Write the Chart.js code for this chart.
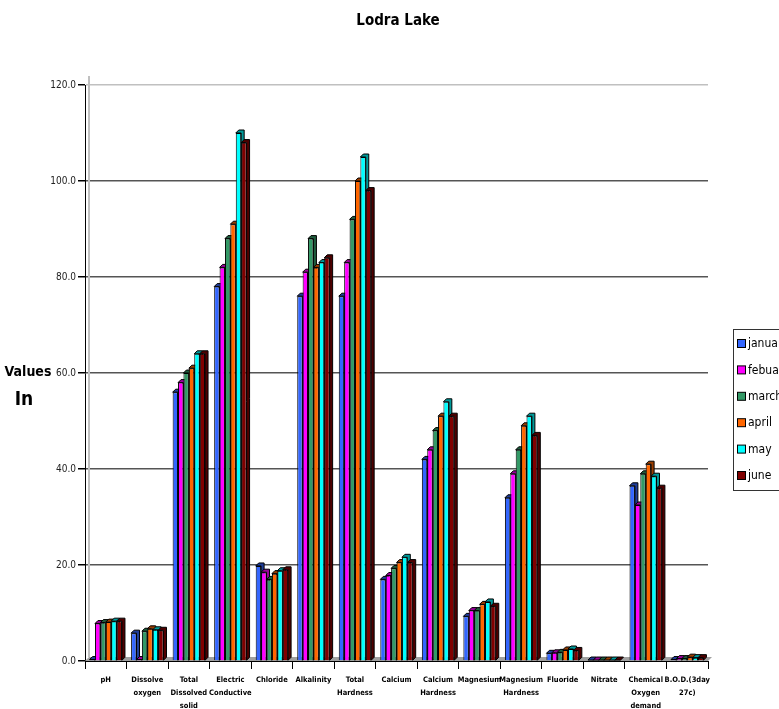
<!DOCTYPE html>
<html>
<head>
<meta charset="utf-8">
<title>Lodra Lake</title>
<script src="https://cdn.jsdelivr.net/npm/chart.js"></script>
<style>
  html, body { margin: 0; padding: 0; background: #ffffff; overflow: hidden; }
  canvas { display: block; }
</style>
</head>
<body>
<canvas id="lake-chart" width="779" height="709"></canvas>
<script>
// parameters on the x axis
const categories = [
    'pH',
    ['Dissolve', 'oxygen'],
    ['Total', 'Dissolved', 'solid'],
    ['Electric', 'Conductive'],
    'Chloride',
    'Alkalinity',
    ['Total', 'Hardness'],
    'Calcium',
    ['Calcium', 'Hardness'],
    'Magnesium',
    ['Magnesium', 'Hardness'],
    'Fluoride',
    'Nitrate',
    ['Chemical', 'Oxygen', 'demand'],
    ['B.O.D.(3day', '27c)']
];

// monthly readings
const january = [0.3, 5.8, 56, 78, 19.8, 76, 76, 17.0, 42, 9.3, 34, 1.6, 0.2, 36.5, 0.3];
const febuary = [7.8, 0.3, 58, 82, 18.5, 81, 83, 17.8, 44, 10.5, 39, 1.7, 0.2, 32.5, 0.5];
const march = [8.0, 6.2, 60, 88, 17.0, 88, 92, 19.3, 48, 10.5, 44, 1.8, 0.2, 39.0, 0.5];
const april = [8.1, 6.7, 61, 91, 18.2, 82, 100, 20.5, 51, 11.8, 49, 2.3, 0.2, 41.0, 0.8];
const may = [8.3, 6.5, 64, 110, 18.8, 83, 105, 21.6, 54, 12.3, 51, 2.5, 0.2, 38.5, 0.7];
const june = [8.3, 6.4, 64, 108, 19.0, 84, 98, 20.5, 51, 11.4, 47, 2.2, 0.2, 36.0, 0.7];

const monthNames = ['january', 'febuary', 'march', 'april', 'may', 'june'];
const monthValues = [january, febuary, march, april, may, june];

// y axis ticks
const yTicks = [0, 20, 40, 60, 80, 100, 120];

const frontColors = ['#3366ff', '#ff00ff', '#339966', '#ff6600', '#00ffff', '#800000'];
const sideColors = ['#1f3d99', '#990099', '#1f5c3d', '#993d00', '#009999', '#4d0000'];

const narrowFont = '"DejaVu Sans Condensed", "Liberation Sans Narrow", "Arial Narrow", "Liberation Sans", sans-serif';

// draws the fake 3D parts, the title, the y label and the clipped legend
const lodraDecor = {
    id: 'lodraDecor',
    beforeDatasetsDraw(chart) {
        const ctx = chart.ctx;
        const area = chart.chartArea;
        ctx.save();
        // back wall edge and floor
        ctx.strokeStyle = '#c0c0c0';
        ctx.lineWidth = 2;
        ctx.beginPath();
        ctx.moveTo(area.left + 4, area.top - 9);
        ctx.lineTo(area.left + 4, area.bottom - 4);
        ctx.stroke();
        ctx.fillStyle = '#a0a0a0';
        ctx.beginPath();
        ctx.moveTo(area.left, area.bottom);
        ctx.lineTo(area.left + 4, area.bottom - 4);
        ctx.lineTo(area.right + 4, area.bottom - 4);
        ctx.lineTo(area.right, area.bottom);
        ctx.closePath();
        ctx.fill();

        // side and top faces of every bar
        const d = 3;
        chart.data.datasets.forEach((ds, i) => {
            const meta = chart.getDatasetMeta(i);
            meta.data.forEach(bar => {
                const p = bar.getProps(['x', 'y', 'base', 'width'], true);
                const l = p.x - p.width / 2;
                const r = p.x + p.width / 2;
                ctx.fillStyle = sideColors[i];
                ctx.strokeStyle = '#000000';
                ctx.lineWidth = 1;
                ctx.beginPath();
                ctx.moveTo(l, p.y);
                ctx.lineTo(l + d, p.y - d);
                ctx.lineTo(r + d, p.y - d);
                ctx.lineTo(r + d, p.base - d);
                ctx.lineTo(r, p.base);
                ctx.lineTo(r, p.y);
                ctx.closePath();
                ctx.fill();
                ctx.stroke();
            });
        });
        ctx.restore();
    },
    afterDraw(chart) {
        const ctx = chart.ctx;
        ctx.save();
        ctx.fillStyle = '#000000';
        ctx.textAlign = 'center';
        ctx.textBaseline = 'middle';
        ctx.font = 'bold 15px ' + narrowFont;
        ctx.fillText('Lodra Lake', 398, 21);

        ctx.font = 'bold 14px ' + narrowFont;
        ctx.fillText('Values', 28, 372);
        ctx.font = 'bold 19px ' + narrowFont;
        ctx.fillText('In', 24, 400);

        // legend box, runs off the right edge like the original
        ctx.strokeStyle = '#333333';
        ctx.lineWidth = 1;
        ctx.fillStyle = '#ffffff';
        ctx.fillRect(733.5, 329.5, 60, 161);
        ctx.strokeRect(733.5, 329.5, 60, 161);
        ctx.textAlign = 'left';
        ctx.font = '12px ' + narrowFont;
        monthNames.forEach((name, i) => {
            const y = 344 + i * 26.4;
            ctx.fillStyle = frontColors[i];
            ctx.fillRect(737.5, y - 4.5, 8, 8);
            ctx.strokeStyle = '#000000';
            ctx.strokeRect(737.5, y - 4.5, 8, 8);
            ctx.fillStyle = '#000000';
            ctx.fillText(name, 748, y);
        });
        ctx.restore();
    }
};

const lakeCtx = document.getElementById('lake-chart').getContext('2d');

const lakeChart = new Chart(lakeCtx, {
    type: 'bar',
    data: {
        labels: categories,
        datasets: monthNames.map((name, i) => ({
            label: name,
            data: monthValues[i],
            backgroundColor: frontColors[i],
            borderColor: '#000000',
            borderWidth: 1,
            borderSkipped: 'bottom',
            categoryPercentage: 0.78,
            barPercentage: 1.0
        }))
    },
    options: {
        responsive: false,
        animation: false,
        layout: {
            padding: { top: 85, right: 71, bottom: 0, left: 0 }
        },
        plugins: {
            legend: { display: false },
            title: { display: false },
            tooltip: { enabled: false }
        },
        scales: {
            x: {
                afterFit: function (scale) {
                    scale.height = 48;
                },
                grid: {
                    offset: true,
                    drawOnChartArea: false,
                    drawTicks: true,
                    tickLength: 8,
                    tickColor: '#000000'
                },
                border: { color: '#000000', width: 1 },
                ticks: {
                    autoSkip: false,
                    maxRotation: 0,
                    minRotation: 0,
                    padding: 5,
                    color: '#000000',
                    font: {
                        family: narrowFont,
                        size: 7.5,
                        weight: 'bold',
                        lineHeight: 1.73
                    }
                }
            },
            y: {
                min: 0,
                max: 120,
                afterFit: function (scale) {
                    scale.width = 85;
                },
                afterBuildTicks: function (scale) {
                    scale.ticks = yTicks.map(v => ({ value: v }));
                },
                grid: {
                    color: function (context) {
                        if (context.tick && context.tick.value === 120) {
                            return '#c0c0c0';
                        }
                        return '#555555';
                    },
                    lineWidth: 1.5,
                    drawTicks: true,
                    tickLength: 7,
                    tickColor: '#000000'
                },
                border: { color: '#000000', width: 1 },
                ticks: {
                    padding: 2,
                    color: '#222222',
                    font: {
                        family: narrowFont,
                        size: 10
                    },
                    callback: function (value) {
                        return Number(value).toFixed(1);
                    }
                }
            }
        }
    },
    plugins: [lodraDecor]
});
</script>
</body>
</html>
